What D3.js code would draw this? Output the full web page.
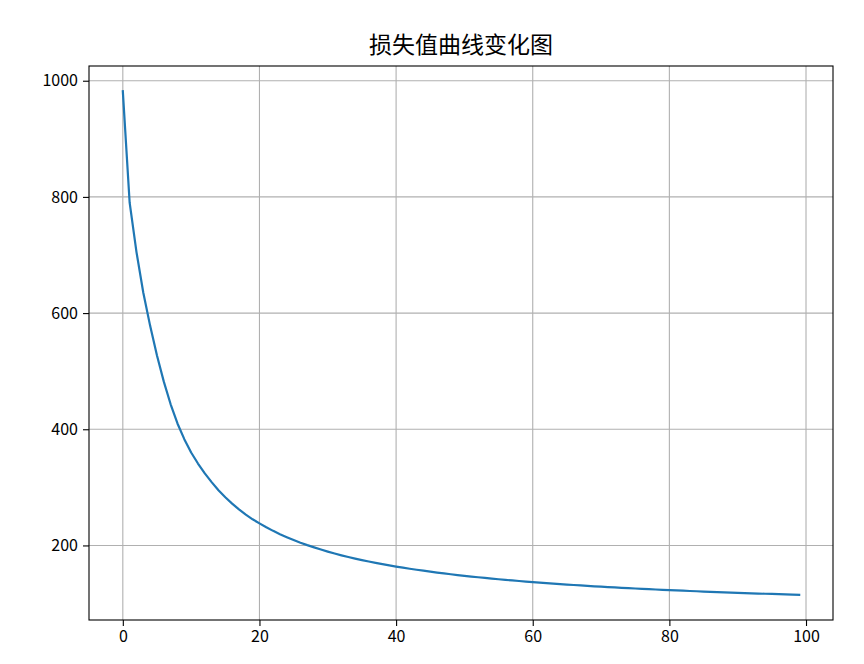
<!DOCTYPE html>
<html>
<head>
<meta charset="utf-8">
<script src="https://cdn.jsdelivr.net/npm/d3@7"></script>
<style>
html,body{margin:0;padding:0;background:#fff;}
svg{display:block;}
</style>
</head>
<body>
<svg id="chart" width="864" height="664"></svg>
<script>
const title = "损失值曲线变化图";
const epochs = d3.range(0, 100);
const lossValues = [
  982, 790, 705, 635, 578, 527, 482, 443, 410, 383,
  360, 341, 324, 309, 295, 283, 272, 262, 253, 245,
  238, 231.3, 225.1, 219.4, 214.2, 209.3, 204.7, 200.5, 196.6, 192.9,
  189.4, 186.1, 183.0, 180.1, 177.4, 174.8, 172.3, 170.0, 167.8, 165.7,
  163.6, 161.7, 159.9, 158.1, 156.5, 154.8, 153.3, 151.8, 150.4, 149.0,
  147.7, 146.4, 145.2, 144.1, 142.9, 141.8, 140.8, 139.7, 138.8, 137.8,
  136.9, 136.0, 135.1, 134.3, 133.5, 132.7, 131.9, 131.2, 130.4, 129.7,
  129.0, 128.4, 127.7, 127.1, 126.5, 125.9, 125.3, 124.7, 124.2, 123.6,
  123.1, 122.6, 122.1, 121.6, 121.1, 120.6, 120.2, 119.7, 119.3, 118.9,
  118.4, 118.0, 117.6, 117.2, 116.8, 116.5, 116.1, 115.7, 115.4, 115.0
];
const xTicks = [0, 20, 40, 60, 80, 100];
const yTicks = [200, 400, 600, 800, 1000];

const margin = {left: 89, right: 864 - 833, top: 66, bottom: 664 - 620};
const W = 864, H = 664;
const svg = d3.select("#chart");

const xMin = d3.min(epochs), xMax = d3.max(epochs);
const yMin = d3.min(lossValues), yMax = d3.max(lossValues);
const xPad = (xMax - xMin) * 0.05, yPad = (yMax - yMin) * 0.05;

const x = d3.scaleLinear().domain([xMin - xPad, xMax + xPad]).range([margin.left, W - margin.right]);
const y = d3.scaleLinear().domain([yMin - yPad, yMax + yPad]).range([H - margin.bottom, margin.top]);

const font = "'Noto Sans CJK SC', 'DejaVu Sans', sans-serif";

// grid
const g = svg.append("g");
g.selectAll(".gx").data(xTicks).enter().append("line")
  .attr("x1", d => x(d)).attr("x2", d => x(d))
  .attr("y1", margin.top).attr("y2", H - margin.bottom)
  .attr("stroke", "#b0b0b0").attr("stroke-width", 1.1);
g.selectAll(".gy").data(yTicks).enter().append("line")
  .attr("y1", d => y(d)).attr("y2", d => y(d))
  .attr("x1", margin.left).attr("x2", W - margin.right)
  .attr("stroke", "#b0b0b0").attr("stroke-width", 1.1);

// line
const line = d3.line().x((d, i) => x(epochs[i])).y(d => y(d));
svg.append("path").datum(lossValues)
  .attr("d", line).attr("fill", "none")
  .attr("stroke", "#1f77b4").attr("stroke-width", 2.2)
  .attr("stroke-linejoin", "round").attr("stroke-linecap", "square");

// axes
const xAxis = d3.axisBottom(x).tickValues(xTicks).tickSize(6).tickPadding(5).tickFormat(d3.format("d"));
const yAxis = d3.axisLeft(y).tickValues(yTicks).tickSize(6).tickPadding(5).tickFormat(d3.format("d"));
const gx = svg.append("g").attr("transform", `translate(0,${H - margin.bottom})`).call(xAxis);
const gy = svg.append("g").attr("transform", `translate(${margin.left},0)`).call(yAxis);
[gx, gy].forEach(a => {
  a.select(".domain").remove();
  a.selectAll(".tick line").attr("stroke", "#000").attr("stroke-width", 1.1);
  a.selectAll(".tick text").attr("fill", "#000").style("font-family", font).style("font-size", "16px");
});

// frame
svg.append("rect")
  .attr("x", margin.left).attr("y", margin.top)
  .attr("width", W - margin.right - margin.left).attr("height", H - margin.bottom - margin.top)
  .attr("fill", "none").attr("stroke", "#000").attr("stroke-width", 1.1);

// title
svg.append("text")
  .attr("x", (margin.left + W - margin.right) / 2).attr("y", 53)
  .attr("text-anchor", "middle")
  .style("font-family", font).style("font-size", "23px").attr("fill", "#000")
  .text(title);
</script>
</body>
</html>
